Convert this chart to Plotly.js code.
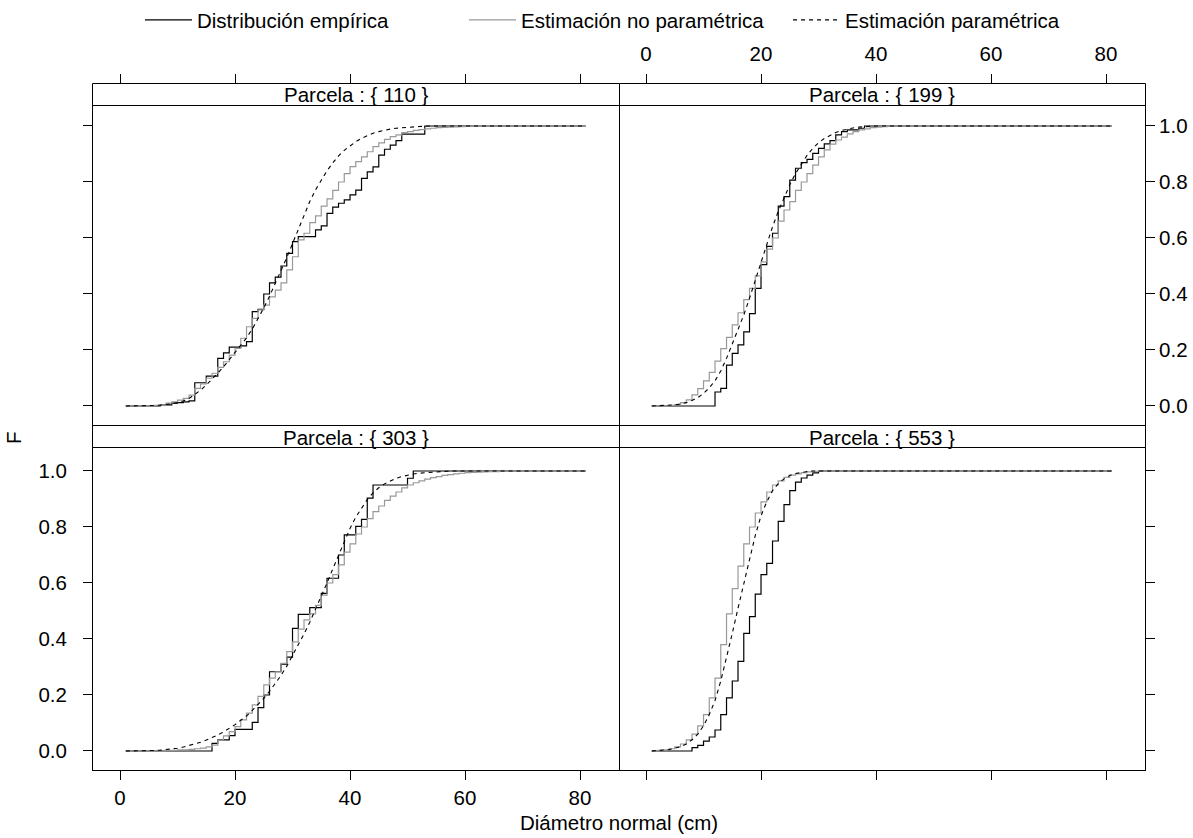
<!DOCTYPE html>
<html>
<head>
<meta charset="utf-8">
<script src="https://cdn.plot.ly/plotly-3.0.1.min.js"></script>
<style>html,body{margin:0;padding:0;background:#fff;}#chart{width:1193px;height:838px;}</style>
</head>
<body>
<div id="chart"></div>
<script>
// ---- Data: [diameter (cm), F] pairs ----
const panels = ["110", "199", "303", "553"];
const seriesNames = ["Distribución empírica", "Estimación no paramétrica", "Estimación paramétrica"];
const xTicks = [0, 20, 40, 60, 80];
const yTicks = [0, 0.2, 0.4, 0.6, 0.8, 1.0];

const emp110 = [[1,0],[7,0.004],[9,0.01],[10,0.012],[11,0.015],[12,0.018],[13,0.083],[15,0.107],[17,0.17],[18,0.19],[19,0.21],[21,0.215],[22,0.23],[23,0.337],[24,0.345],[25,0.40],[26,0.44],[27,0.46],[28,0.50],[29,0.545],[30,0.587],[31,0.605],[34,0.629],[35,0.643],[36,0.688],[37,0.71],[38,0.724],[39,0.736],[40,0.754],[41,0.771],[42,0.813],[43,0.836],[44,0.854],[45,0.896],[46,0.917],[47,0.932],[48,0.948],[49,0.971],[53,1],[81,1]];
const np110 = [[1,0],[5,0.001],[6,0.002],[7,0.004],[8,0.01],[9,0.015],[10,0.021],[11,0.027],[12,0.039],[13,0.063],[14,0.079],[15,0.099],[16,0.117],[17,0.138],[18,0.158],[19,0.182],[20,0.206],[21,0.242],[22,0.283],[23,0.313],[24,0.343],[25,0.36],[26,0.39],[27,0.414],[28,0.44],[29,0.486],[30,0.533],[31,0.593],[32,0.617],[33,0.655],[34,0.679],[35,0.714],[36,0.74],[37,0.77],[38,0.8],[39,0.83],[40,0.855],[41,0.873],[42,0.89],[43,0.908],[44,0.926],[45,0.94],[46,0.952],[47,0.962],[48,0.968],[49,0.976],[50,0.98],[51,0.984],[52,0.987],[53,0.99],[54,0.992],[55,0.994],[56,0.995],[57,0.996],[58,0.997],[59,0.998],[60,0.999],[62,1],[81,1]];
const par110 = [[1,0],[4,0],[5,0.001],[6,0.002],[7,0.003],[8,0.005],[9,0.008],[10,0.012],[11,0.018],[12,0.027],[13,0.04],[14,0.056],[15,0.075],[16,0.095],[17,0.117],[18,0.14],[19,0.165],[20,0.19],[21,0.215],[22,0.243],[23,0.275],[24,0.31],[25,0.35],[26,0.392],[27,0.436],[28,0.48],[29,0.53],[30,0.58],[31,0.632],[32,0.682],[33,0.73],[34,0.772],[35,0.808],[36,0.84],[37,0.868],[38,0.893],[39,0.913],[40,0.93],[41,0.944],[42,0.956],[43,0.966],[44,0.974],[45,0.98],[46,0.985],[47,0.989],[48,0.992],[49,0.994],[50,0.996],[51,0.997],[52,0.998],[53,0.999],[54,1],[81,1]];

const emp199 = [[1,0],[12,0.05],[13,0.063],[14,0.146],[15,0.188],[16,0.218],[17,0.265],[18,0.33],[19,0.42],[20,0.505],[21,0.57],[22,0.617],[23,0.714],[24,0.748],[25,0.807],[26,0.849],[27,0.869],[28,0.881],[29,0.902],[30,0.92],[31,0.936],[32,0.948],[33,0.968],[34,0.98],[35,0.986],[37,0.992],[38,1],[81,1]];
const np199 = [[1,0],[4,0.002],[5,0.005],[6,0.012],[7,0.022],[8,0.04],[9,0.062],[10,0.09],[11,0.12],[12,0.16],[13,0.205],[14,0.245],[15,0.29],[16,0.333],[17,0.38],[18,0.42],[19,0.465],[20,0.515],[21,0.56],[22,0.6],[23,0.66],[24,0.7],[25,0.73],[26,0.77],[27,0.8],[28,0.83],[29,0.86],[30,0.89],[31,0.915],[32,0.935],[33,0.95],[34,0.96],[35,0.972],[36,0.98],[37,0.986],[38,0.99],[39,0.994],[40,0.996],[41,0.998],[42,1],[81,1]];
const par199 = [[1,0],[3,0.001],[4,0.002],[5,0.004],[6,0.007],[7,0.012],[8,0.02],[9,0.03],[10,0.045],[11,0.065],[12,0.09],[13,0.125],[14,0.17],[15,0.22],[16,0.27],[17,0.325],[18,0.385],[19,0.45],[20,0.515],[21,0.58],[22,0.64],[23,0.695],[24,0.745],[25,0.79],[26,0.83],[27,0.865],[28,0.895],[29,0.92],[30,0.94],[31,0.955],[32,0.967],[33,0.977],[34,0.984],[35,0.989],[36,0.993],[37,0.996],[38,0.998],[39,0.999],[40,1],[81,1]];

const emp303 = [[1,0],[16,0.027],[17,0.04],[19,0.055],[20,0.077],[23,0.102],[24,0.155],[25,0.2],[26,0.283],[28,0.31],[29,0.335],[30,0.438],[31,0.488],[33,0.512],[35,0.563],[36,0.617],[38,0.7],[39,0.772],[41,0.802],[42,0.827],[43,0.903],[44,0.95],[50,0.974],[51,1],[81,1]];
const np303 = [[1,0],[8,0.002],[10,0.004],[12,0.006],[13,0.008],[14,0.01],[15,0.015],[16,0.021],[17,0.039],[18,0.054],[19,0.069],[20,0.087],[21,0.111],[22,0.135],[23,0.165],[24,0.195],[25,0.236],[26,0.26],[27,0.283],[28,0.313],[29,0.355],[30,0.39],[31,0.435],[32,0.468],[33,0.49],[34,0.52],[35,0.557],[36,0.6],[37,0.63],[38,0.665],[39,0.71],[40,0.74],[41,0.775],[42,0.8],[43,0.83],[44,0.855],[45,0.875],[46,0.895],[47,0.91],[48,0.925],[49,0.94],[50,0.95],[51,0.958],[52,0.965],[53,0.971],[54,0.976],[55,0.98],[56,0.984],[57,0.987],[58,0.99],[59,0.992],[60,0.994],[61,0.995],[62,0.996],[63,0.997],[64,0.998],[66,0.999],[68,1],[81,1]];
const par303 = [[1,0],[5,0],[6,0.002],[7,0.003],[8,0.005],[9,0.007],[10,0.01],[11,0.014],[12,0.019],[13,0.025],[14,0.031],[15,0.039],[16,0.047],[17,0.057],[18,0.068],[19,0.08],[20,0.094],[21,0.11],[22,0.125],[23,0.145],[24,0.165],[25,0.188],[26,0.213],[27,0.24],[28,0.27],[29,0.303],[30,0.34],[31,0.378],[32,0.418],[33,0.46],[34,0.505],[35,0.55],[36,0.6],[37,0.65],[38,0.7],[39,0.75],[40,0.795],[41,0.835],[42,0.868],[43,0.898],[44,0.922],[45,0.94],[46,0.954],[47,0.965],[48,0.974],[49,0.98],[50,0.985],[51,0.989],[52,0.992],[53,0.994],[54,0.996],[55,0.997],[56,0.998],[57,0.999],[58,1],[81,1]];

const emp553 = [[1,0],[8,0.012],[9,0.02],[10,0.035],[11,0.05],[12,0.075],[13,0.13],[14,0.19],[15,0.25],[16,0.32],[17,0.42],[18,0.48],[19,0.56],[20,0.63],[21,0.67],[22,0.75],[23,0.82],[24,0.88],[25,0.93],[26,0.96],[27,0.975],[28,0.985],[29,0.993],[30,1],[81,1]];
const np553 = [[1,0],[2,0.002],[3,0.004],[4,0.008],[5,0.015],[6,0.025],[7,0.04],[8,0.06],[9,0.09],[10,0.13],[11,0.19],[12,0.26],[13,0.38],[14,0.49],[15,0.58],[16,0.66],[17,0.74],[18,0.8],[19,0.85],[20,0.89],[21,0.925],[22,0.95],[23,0.965],[24,0.977],[25,0.985],[26,0.99],[27,0.994],[28,0.997],[29,0.999],[30,1],[81,1]];
const par553 = [[1,0],[3,0.002],[4,0.005],[5,0.01],[6,0.015],[7,0.025],[8,0.04],[9,0.06],[10,0.09],[11,0.13],[12,0.18],[13,0.25],[14,0.33],[15,0.42],[16,0.51],[17,0.6],[18,0.69],[19,0.77],[20,0.84],[21,0.89],[22,0.93],[23,0.955],[24,0.972],[25,0.984],[26,0.991],[27,0.995],[28,0.998],[29,1],[81,1]];

// ---- Layout geometry (pixels of the 1193x838 page) ----
const W = 1193, H = 838;
const FONT = "Liberation Sans, Arial, Helvetica, sans-serif";
const FS = 20.5;
const colL = [93, 619], colR = [619, 1145];
const rowTop = {plot: [106, 425], strip: [83.5, 105.5]};
const rowBot = {plot: [448, 770], strip: [425.5, 447.5]};
const px2x = p => p / W, py2y = p => 1 - p / H;
const xRange = [-4.7, 86.78];
const yRangeTop = [-0.0679, 1.0714];
const yRangeBot = [-0.0679, 1.0821];

const dataSets = {
  "110": [emp110, np110, par110],
  "199": [emp199, np199, par199],
  "303": [emp303, np303, par303],
  "553": [emp553, np553, par553]
};
const axMap = {"303": ["x", "y"], "553": ["x2", "y2"], "110": ["x3", "y3"], "199": ["x4", "y4"]};
const styles = [
  {color: "#000000", width: 1.2, dash: "solid", shape: "hv"},
  {color: "#999999", width: 1.2, dash: "solid", shape: "hv"},
  {color: "#000000", width: 1.1, dash: "4px,4px", shape: "linear"}
];

const traces = [];
panels.forEach((p, pi) => {
  dataSets[p].forEach((ser, si) => {
    const st = styles[si];
    traces.push({
      type: "scatter", mode: "lines",
      x: ser.map(d => d[0]), y: ser.map(d => d[1]),
      xaxis: axMap[p][0], yaxis: axMap[p][1],
      name: seriesNames[si], legendgroup: "g" + si,
      showlegend: pi === 0,
      line: {color: st.color, width: st.width, dash: st.dash, shape: st.shape},
      hoverinfo: "skip"
    });
  });
});
// helper traces so that the top tick axes are drawn
traces.push({type: "scatter", mode: "lines", x: [], y: [], xaxis: "x5", yaxis: "y3", showlegend: false, hoverinfo: "skip"});
traces.push({type: "scatter", mode: "lines", x: [], y: [], xaxis: "x6", yaxis: "y4", showlegend: false, hoverinfo: "skip"});

const tickFont = {family: FONT, size: FS, color: "#000"};
function xAx(col, anchor, opts) {
  return Object.assign({
    domain: [px2x(col[0]), px2x(col[1])], anchor: anchor, range: xRange,
    showline: true, mirror: true, linecolor: "#000", linewidth: 1,
    showgrid: false, zeroline: false, tickmode: "array", tickvals: xTicks,
    ticks: "outside", ticklen: 9, tickcolor: "#000", tickwidth: 1,
    tickfont: tickFont, automargin: false, fixedrange: true
  }, opts);
}
function yAx(row, anchor, yr, opts) {
  return Object.assign({
    domain: [py2y(row.plot[1]), py2y(row.plot[0])], anchor: anchor, range: yr,
    showline: true, mirror: true, linecolor: "#000", linewidth: 1,
    showgrid: false, zeroline: false, tickmode: "array", tickvals: yTicks, tickformat: ".1f",
    ticks: "outside", ticklen: 9, tickcolor: "#000", tickwidth: 1,
    tickfont: tickFont, automargin: false, fixedrange: true
  }, opts);
}

const shapes = [];
const annotations = [];
const stripEdges = {L: [92.5, 619.5], R: [619.5, 1145.5]};
[["L", rowTop, "110"], ["R", rowTop, "199"], ["L", rowBot, "303"], ["R", rowBot, "553"]].forEach(([c, row, p]) => {
  const e = stripEdges[c];
  shapes.push({type: "rect", xref: "paper", yref: "paper",
    x0: px2x(e[0]), x1: px2x(e[1]), y0: py2y(row.strip[1]), y1: py2y(row.strip[0]),
    fillcolor: "#ffffff", line: {color: "#000", width: 1}, layer: "above"});
  annotations.push({xref: "paper", yref: "paper", x: px2x((e[0] + e[1]) / 2),
    y: py2y((row.strip[0] + row.strip[1]) / 2 + 0.5), xanchor: "center", yanchor: "middle",
    text: "Parcela : { " + p + " }", showarrow: false, font: {family: FONT, size: FS, color: "#000"}});
});
annotations.push({xref: "paper", yref: "paper", x: px2x(619), y: py2y(822), xanchor: "center", yanchor: "middle",
  text: "Diámetro normal (cm)", showarrow: false, borderpad: 0, font: {family: FONT, size: FS, color: "#000"}});
annotations.push({xref: "paper", yref: "paper", x: px2x(13), y: py2y(437), xanchor: "center", yanchor: "middle",
  text: "F", textangle: -90, showarrow: false, font: {family: FONT, size: FS, color: "#000"}});

const layout = {
  width: W, height: H, margin: {l: 0, r: 0, t: 0, b: 0, pad: 0},
  paper_bgcolor: "#fff", plot_bgcolor: "#fff",
  font: {family: FONT, size: FS, color: "#000"},
  showlegend: true,
  legend: {orientation: "h", x: px2x(140), xanchor: "left", y: py2y(20), yanchor: "middle",
    font: {family: FONT, size: FS, color: "#000"}, bgcolor: "rgba(0,0,0,0)",
    itemwidth: 47, entrywidth: 262, entrywidthmode: "pixels", tracegroupgap: 0},
  xaxis: xAx(colL, "y", {}),
  yaxis: yAx(rowBot, "x", yRangeBot, {side: "left", ticklabelstandoff: 12}),
  xaxis2: xAx(colR, "y2", {showticklabels: false}),
  yaxis2: yAx(rowBot, "x2", yRangeBot, {side: "right", mirror: false, showticklabels: false}),
  xaxis3: xAx(colL, "y3", {ticks: "", showticklabels: false}),
  yaxis3: yAx(rowTop, "x3", yRangeTop, {side: "left", showticklabels: false}),
  xaxis4: xAx(colR, "y4", {ticks: "", showticklabels: false}),
  yaxis4: yAx(rowTop, "x4", yRangeTop, {side: "right", mirror: false}),
  xaxis5: xAx(colL, "free", {overlaying: "x3", side: "top", position: py2y(83.5),
    showline: false, mirror: false, showticklabels: false, ticklen: 10}),
  xaxis6: xAx(colR, "free", {overlaying: "x4", side: "top", position: py2y(83.5),
    showline: false, mirror: false, ticklen: 10, ticklabelstandoff: 4}),
  shapes: shapes,
  annotations: annotations
};

Plotly.newPlot("chart", traces, layout, {displayModeBar: false, staticPlot: true});
</script>
</body>
</html>
